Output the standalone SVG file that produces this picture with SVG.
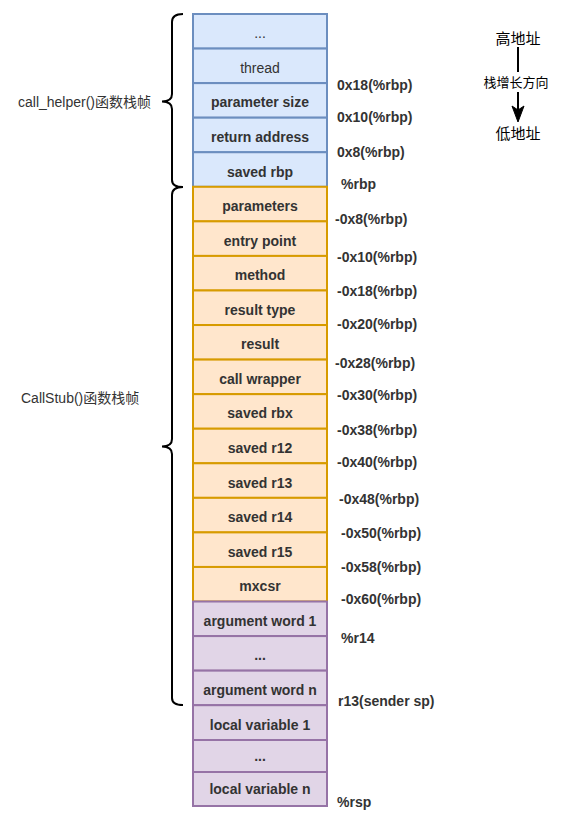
<svg xmlns="http://www.w3.org/2000/svg" width="563" height="819" viewBox="0 0 563 819">
<style>
.t{font-family:"Liberation Sans",Arial,"Noto Sans CJK SC",sans-serif;font-size:14px;fill:#333;}
.b{font-weight:bold;}
.c{text-anchor:middle;}
.blue{fill:#dae8fc;stroke:#6c8ebf;stroke-width:2;}
.orange{fill:#ffe6cc;stroke:#d79b00;stroke-width:2;}
.purple{fill:#e1d5e7;stroke:#9673a6;stroke-width:2;}
.brace{fill:none;stroke:#000;stroke-width:2;}
.cjk{font-family:"Noto Sans CJK SC","Liberation Sans",sans-serif;fill:#000;}
</style>
<rect width="563" height="819" fill="#fff"/>

<g id="connectors">
<path class="brace" d="M183,14 C176,14 172,16 172,22 L172,94 C172,99 168,101.5 162,101.5 C168,101.5 172,104 172,109 L172,180 C172,185 176,187 183,187"/>
<path class="brace" d="M183,187 C176,187 172,189 172,195 L172,439 C172,444 168,446.5 162,446.5 C168,446.5 172,449 172,454 L172,698 C172,703 176,705 183,705"/>
<line x1="518" y1="47" x2="518" y2="72" stroke="#000" stroke-width="2"/>
<line x1="518" y1="92" x2="518" y2="111" stroke="#000" stroke-width="2"/>
<polygon points="518,122 512,106 518,110 524,106" fill="#000" stroke="#000" stroke-width="1"/>
</g>

<g id="r0"><rect class="blue" x="193" y="14" width="134" height="34.56"/><text class="t c" x="260" y="38.3">...</text></g>
<g id="r1"><rect class="blue" x="193" y="48.56" width="134" height="34.56"/><text class="t c" x="260" y="72.8">thread</text></g>
<g id="r2"><rect class="blue" x="193" y="83.12" width="134" height="34.56"/><text class="t b c" x="260" y="107.4">parameter size</text></g>
<g id="r3"><rect class="blue" x="193" y="117.68" width="134" height="34.56"/><text class="t b c" x="260" y="142">return address</text></g>
<g id="r4"><rect class="blue" x="193" y="152.24" width="134" height="34.56"/><text class="t b c" x="260" y="176.5">saved rbp</text></g>
<g id="r5"><rect class="orange" x="193" y="186.8" width="134" height="34.56"/><text class="t b c" x="260" y="211.1">parameters</text></g>
<g id="r6"><rect class="orange" x="193" y="221.36" width="134" height="34.56"/><text class="t b c" x="260" y="245.6">entry point</text></g>
<g id="r7"><rect class="orange" x="193" y="255.92" width="134" height="34.56"/><text class="t b c" x="260" y="280.2">method</text></g>
<g id="r8"><rect class="orange" x="193" y="290.48" width="134" height="34.56"/><text class="t b c" x="260" y="314.8">result type</text></g>
<g id="r9"><rect class="orange" x="193" y="325.04" width="134" height="34.56"/><text class="t b c" x="260" y="349.3">result</text></g>
<g id="r10"><rect class="orange" x="193" y="359.6" width="134" height="34.56"/><text class="t b c" x="260" y="383.9">call wrapper</text></g>
<g id="r11"><rect class="orange" x="193" y="394.16" width="134" height="34.56"/><text class="t b c" x="260" y="418.4">saved rbx</text></g>
<g id="r12"><rect class="orange" x="193" y="428.72" width="134" height="34.56"/><text class="t b c" x="260" y="453">saved r12</text></g>
<g id="r13"><rect class="orange" x="193" y="463.28" width="134" height="34.56"/><text class="t b c" x="260" y="487.6">saved r13</text></g>
<g id="r14"><rect class="orange" x="193" y="497.84" width="134" height="34.56"/><text class="t b c" x="260" y="522.1">saved r14</text></g>
<g id="r15"><rect class="orange" x="193" y="532.4" width="134" height="34.56"/><text class="t b c" x="260" y="556.7">saved r15</text></g>
<g id="r16"><rect class="orange" x="193" y="566.96" width="134" height="34.56"/><text class="t b c" x="260" y="591.2">mxcsr</text></g>
<g id="r17"><rect class="purple" x="193" y="601.52" width="134" height="34.56"/><text class="t b c" x="260" y="625.8">argument word 1</text></g>
<g id="r18"><rect class="purple" x="193" y="636.08" width="134" height="34.56"/><text class="t b c" x="260" y="660.4">...</text></g>
<g id="r19"><rect class="purple" x="193" y="670.64" width="134" height="34.56"/><text class="t b c" x="260" y="694.9">argument word n</text></g>
<g id="r20"><rect class="purple" x="193" y="705.2" width="134" height="34.8"/><text class="t b c" x="260" y="729.6">local variable 1</text></g>
<g id="r21"><rect class="purple" x="193" y="740" width="134" height="32"/><text class="t b c" x="260" y="761">...</text></g>
<g id="r22"><rect class="purple" x="193" y="772" width="134" height="34"/><text class="t b c" x="260" y="794">local variable n</text></g>

<g id="offsets">
<text class="t b" x="337" y="90">0x18(%rbp)</text>
<text class="t b" x="337" y="122">0x10(%rbp)</text>
<text class="t b" x="337" y="157">0x8(%rbp)</text>
<text class="t b" x="341" y="189">%rbp</text>
<text class="t b" x="335" y="224">-0x8(%rbp)</text>
<text class="t b" x="337" y="262">-0x10(%rbp)</text>
<text class="t b" x="337" y="296">-0x18(%rbp)</text>
<text class="t b" x="337" y="329">-0x20(%rbp)</text>
<text class="t b" x="335" y="368">-0x28(%rbp)</text>
<text class="t b" x="337" y="400">-0x30(%rbp)</text>
<text class="t b" x="337" y="435">-0x38(%rbp)</text>
<text class="t b" x="337" y="467">-0x40(%rbp)</text>
<text class="t b" x="339" y="504">-0x48(%rbp)</text>
<text class="t b" x="341" y="538">-0x50(%rbp)</text>
<text class="t b" x="341" y="572">-0x58(%rbp)</text>
<text class="t b" x="341" y="604">-0x60(%rbp)</text>
<text class="t b" x="341" y="643">%r14</text>
<text class="t b" x="338" y="706">r13(sender sp)</text>
<text class="t b" x="337" y="807">%rsp</text>
</g>

<g id="frame-labels">
<text class="t" x="18" y="107">call_helper()函数栈帧</text>
<text class="t" x="21" y="403">CallStub()函数栈帧</text>
</g>

<g id="legend">
<text class="t cjk c" x="518" y="43.5" style="font-size:15px">高地址</text>
<text class="t cjk c" x="516" y="86.5" style="font-size:13px">栈增长方向</text>
<text class="t cjk c" x="518" y="139" style="font-size:15px">低地址</text>
</g>
</svg>
